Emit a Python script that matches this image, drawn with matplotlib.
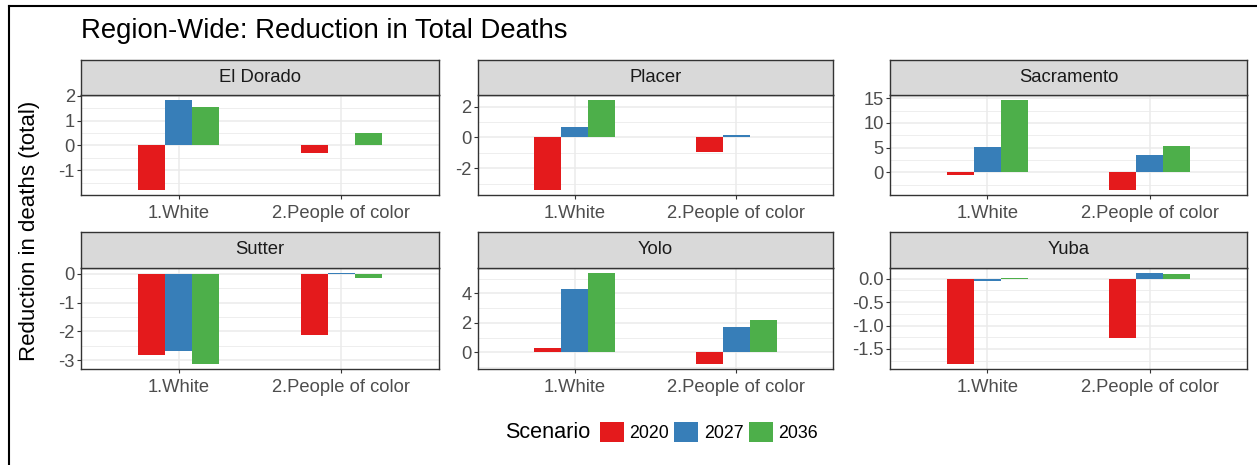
import matplotlib
matplotlib.use('Agg')
import matplotlib.pyplot as plt
from matplotlib.ticker import MultipleLocator, FormatStrFormatter
from matplotlib.lines import Line2D
from matplotlib.patches import Patch

plt.rcParams['font.family'] = ['Liberation Sans', 'DejaVu Sans']
plt.rcParams['axes.unicode_minus'] = False

# data
counties = ['El Dorado', 'Placer', 'Sacramento', 'Sutter', 'Yolo', 'Yuba']
groups = ['1.White', '2.People of color']
scenarios = ['2020', '2027', '2036']
colors = ['#E41A1C', '#377EB8', '#4DAF4A']

# each row: [White, People of color] for one county
v2020 = [[-1.80, -0.29], [-3.42, -0.92], [-0.53, -3.64],
         [-2.82, -2.13], [0.32, -0.82], [-1.83, -1.27]]
v2027 = [[1.84, 0.00], [0.70, 0.13], [5.08, 3.57],
         [-2.66, 0.04], [4.29, 1.75], [-0.05, 0.13]]
v2036 = [[1.53, 0.52], [2.45, 0.00], [14.74, 5.36],
         [-3.14, -0.16], [5.41, 2.16], [0.02, 0.10]]
values = [v2020, v2027, v2036]

# y tick step for each facet (free scales)
ystep = [1, 2, 5, 1, 2, 0.5]

W, H = 1257, 465
fig = plt.figure(figsize=(W / 100, H / 100), dpi=100)

col_x = [(81, 439), (478, 833), (890, 1247)]
row_y = [(60, 95, 195), (232, 268, 369)]  # strip top, plot top, plot bottom

grey20 = '#333333'
grey30 = '#4D4D4D'
tick_fs = 13.2

for i, county in enumerate(counties):
    r, c = divmod(i, 3)
    x0, x1 = col_x[c]
    st, pt, pb = row_y[r]
    ax = fig.add_axes([x0 / W, 1 - pb / H, (x1 - x0) / W, (pb - pt) / H])
    sax = fig.add_axes([x0 / W, 1 - pt / H, (x1 - x0) / W, (pt - st) / H])

    bw = 0.5 / 3
    for k in range(3):
        xs = [1 + (k - 1) * bw, 2 + (k - 1) * bw]
        ax.bar(xs, values[k][i], width=bw, color=colors[k], zorder=3)

    ax.set_xlim(0.4, 2.6)
    ax.use_sticky_edges = False
    ax.margins(y=0.05)
    ax.set_xticks([1, 2])
    ax.set_xticklabels(groups)
    ax.yaxis.set_major_locator(MultipleLocator(ystep[i]))
    ax.yaxis.set_minor_locator(MultipleLocator(ystep[i] / 2))
    if ystep[i] < 1:
        ax.yaxis.set_major_formatter(FormatStrFormatter('%.1f'))
    else:
        ax.yaxis.set_major_formatter(FormatStrFormatter('%d'))
    ax.grid(which='major', color='#EBEBEB', linewidth=1.1, zorder=0)
    ax.grid(which='minor', axis='y', color='#EBEBEB', linewidth=0.6, zorder=0)
    ax.set_axisbelow(True)
    ax.tick_params(axis='both', which='major', length=3, width=0.8, color=grey20,
                   labelcolor=grey30, labelsize=tick_fs, pad=1.5)
    ax.tick_params(axis='x', which='major', pad=4.5)
    ax.tick_params(axis='y', which='minor', length=0)
    for sp in ax.spines.values():
        sp.set_color(grey20)
        sp.set_linewidth(1.0)

    sax.set_facecolor('#D9D9D9')
    sax.set_xticks([])
    sax.set_yticks([])
    for sp in sax.spines.values():
        sp.set_color(grey20)
        sp.set_linewidth(1.0)
    sax.text(0.5, 0.5, county, ha='center', va='center', fontsize=13.3,
             color='#1A1A1A', transform=sax.transAxes)

fig.text(81 / W, 1 - 38 / H, 'Region-Wide: Reduction in Total Deaths',
         fontsize=19.8, color='black', va='baseline', ha='left')
fig.text(30 / W, 1 - 231 / H, 'Reduction in deaths (total)', rotation=90,
         fontsize=16, ha='center', va='center')

# legend with the title on the left
fig.text(505 / W, 1 - 432 / H, 'Scenario', fontsize=15.6, ha='left', va='center')
handles = [Patch(facecolor=colors[k], label=scenarios[k]) for k in range(3)]
fig.legend(handles=handles, loc='center left', bbox_to_anchor=(600 / W, 1 - 432 / H),
           ncol=3, frameon=False, fontsize=12.8, handlelength=1.35, handleheight=1.35,
           handletextpad=0.3, columnspacing=0.3, borderaxespad=0, borderpad=0)

# outer frame (top and left edges)
fig.add_artist(Line2D([8.5 / W, 1], [1 - 6 / H, 1 - 6 / H], color='black', lw=1.5))
fig.add_artist(Line2D([8.5 / W, 8.5 / W], [0, 1 - 6 / H], color='black', lw=1.5))

fig.savefig('out.png', dpi=100)
